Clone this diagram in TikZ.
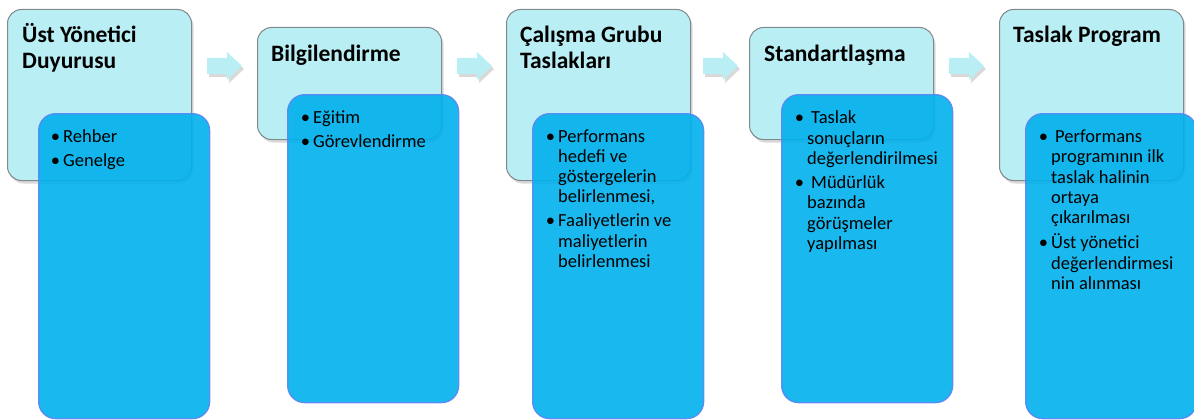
\documentclass[tikz,border=0pt]{standalone}
\usepackage{fontspec}
\setmainfont{Carlito}
\usetikzlibrary{shadows}
\definecolor{hdrfill}{HTML}{B9EEF4}
\definecolor{hdrline}{HTML}{808A8C}
\definecolor{itmfill}{HTML}{00B0EC}
\definecolor{itmline}{HTML}{5A84F5}
\newcommand{\blt}{\llap{\textbullet\hspace{3pt}}}
\tikzset{
	hdrbox/.style={draw=hdrline, fill=hdrfill, line width=1pt, rounded corners=14pt, anchor=north west, inner sep=0pt,
		drop shadow={shadow xshift=2pt, shadow yshift=-3pt, opacity=0.3}},
	itmbox/.style={draw=itmline, fill=itmfill, line width=1.3pt, rounded corners=17pt, anchor=north west, inner sep=0pt, opacity=0.9},
	stagearrow/.style={fill=hdrfill, drop shadow={shadow xshift=2pt, shadow yshift=-3pt, opacity=0.3}},
	hdrtext/.style={font=\fontsize{23.5}{26.5}\selectfont\bfseries, align=left, anchor=base west, inner sep=0pt},
	itmtext/.style={font=\fontsize{18.5}{20.3}\selectfont, align=left, anchor=base west, inner sep=0pt}
}

\begin{document}
\begin{tikzpicture}[x=1pt, y=-1pt]

\useasboundingbox (0,0) rectangle (1194,420);

\foreach \x/\y/\h [count=\i] in {7/9/171pt, 257/27/112pt, 506/9/171pt, 749/27/112pt, 999/9/171pt}
\node[hdrbox, minimum width=184pt, minimum height=\h] (hdr\i) at (\x,\y) {};

\foreach \x in {224,474,720,966}
\path[stagearrow] (\x-17,58) -- (\x+3,58) -- (\x+3,52) -- (\x+18,66) -- (\x+3,80) -- (\x+3,74) -- (\x-17,74) -- cycle;

\foreach \x/\y/\h [count=\i] in {38/113/305pt, 287/94/308pt, 532/113/305pt, 781/94/308pt, 1025/113/305pt}
\node[itmbox, minimum width=171pt, minimum height=\h] (itm\i) at (\x,\y) {};

% stage titles (anchored at the last line)
\node[hdrtext] (hdr1t) at (22,69) {Üst Yönetici\\Duyurusu};
\node[hdrtext] (hdr2t) at (271,62) {Bilgilendirme};
\node[hdrtext] (hdr3t) at (520,69) {Çalışma Grubu\\Taslakları};
\node[hdrtext] (hdr4t) at (764,62) {Standartlaşma};
\node[hdrtext] (hdr5t) at (1013,43) {Taslak Program};

% stage items (anchored at the last line)
\node[itmtext] (itm1t) at (63,166) {\blt Rehber\\[3.7pt]\blt Genelge};
\node[itmtext] (itm2t) at (313,147) {\blt Eğitim\\[3.7pt]\blt Görevlendirme};
\node[itmtext] (itm3t) at (558,267.5) {\blt Performans\\hedefi ve\\göstergelerin\\belirlenmesi,\\[3.7pt]\blt Faaliyetlerin ve\\maliyetlerin\\belirlenmesi};
\node[itmtext] (itm4t) at (807,249.3) {\blt\hspace{4pt}Taslak\\sonuçların\\değerlendirilmesi\\[3.7pt]\blt\hspace{4pt}Müdürlük\\bazında\\görüşmeler\\yapılması};
\node[itmtext] (itm5t) at (1051,289.3) {\blt\hspace{4pt}Performans\\programının ilk\\taslak halinin\\ortaya\\çıkarılması\\[4.7pt]\blt Üst yönetici\\değerlendirmesi\\nin alınması};

\end{tikzpicture}
\end{document}
